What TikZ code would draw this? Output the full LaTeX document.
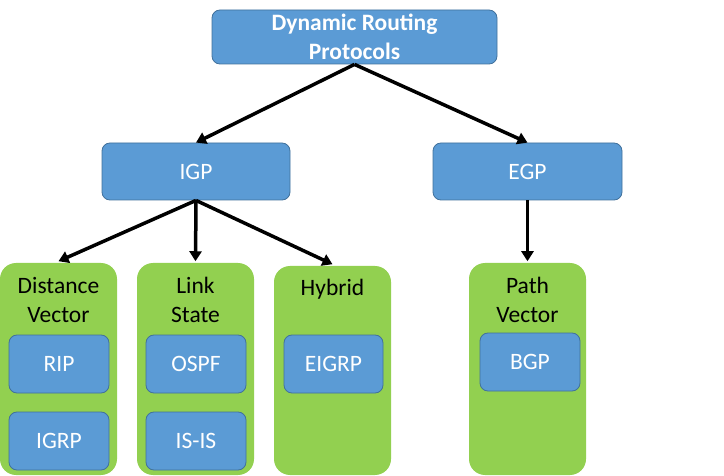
\documentclass[tikz,border=0pt]{standalone}
\usepackage{fontspec}
\setmainfont{Carlito}
\usetikzlibrary{arrows.meta,positioning}
\definecolor{boxblue}{HTML}{5B9BD5}
\definecolor{boxedge}{HTML}{41719C}
\definecolor{groupgreen}{HTML}{92D050}
\begin{document}
\begin{tikzpicture}[x=1pt,y=-1pt,line width=3.5pt,
  every node/.style={font=\fontsize{23.5}{29}\selectfont},
  main node/.style={rectangle,rounded corners=8pt,draw=boxedge,line width=0.8pt,fill=boxblue,text=white,align=center,inner sep=0pt,minimum width=100pt,minimum height=58pt},
  group node/.style={rectangle,rounded corners=16pt,fill=groupgreen,minimum width=117pt,minimum height=212pt,inner sep=0pt},
  group label/.style={anchor=north,yshift=-14pt,align=center,text=black,inner sep=0pt},
  link/.style={-{Triangle[width=12pt,length=10pt]}}]
\useasboundingbox (0,0) rectangle (724,476);
\begin{scope}
\node[group node,label={[group label]90:Distance\\Vector}] (dv) at (58.5,369) {};
\node[group node,label={[group label]90:Link\\State}] (ls) at (195.5,369) {};
\node[group node,minimum height=209pt,label={[group label,yshift=1pt]90:Hybrid}] (hy) at (332.5,370.5) {};
\node[group node,label={[group label]90:Path\\Vector}] (pv) at (527.5,369) {};
\end{scope}
\begin{scope}
\node[main node,minimum width=285pt,minimum height=54pt] (top) at (354.5,37) {\textbf{Dynamic Routing}\\\textbf{Protocols}};
\node[main node,minimum width=188pt,minimum height=57pt] (igp) at (196,171.5) {IGP};
\node[main node,minimum width=189pt,minimum height=57pt] (egp) at (527.5,171.5) {EGP};
\node[main node] (rip) at (59,364) {RIP};
\node[main node] (igrp) at (59,441) {IGRP};
\node[main node] (ospf) at (196,364) {OSPF};
\node[main node] (isis) at (196,441) {IS-IS};
\node[main node,minimum width=99pt] (eigrp) at (333.5,364) {EIGRP};
\node[main node] (bgp) at (530,362) {BGP};
\end{scope}
\begin{scope}
\draw[link] (top.south) -- (igp.north);
\draw[link] (top.south) -- (egp.north);
\draw[link] (igp.south) -- (dv.north);
\draw[link] (igp.south) -- (ls.north);
\draw[link] (igp.south) -- (hy.north);
\draw[link] (egp.south) -- (pv.north);
\end{scope}
\end{tikzpicture}
\end{document}
